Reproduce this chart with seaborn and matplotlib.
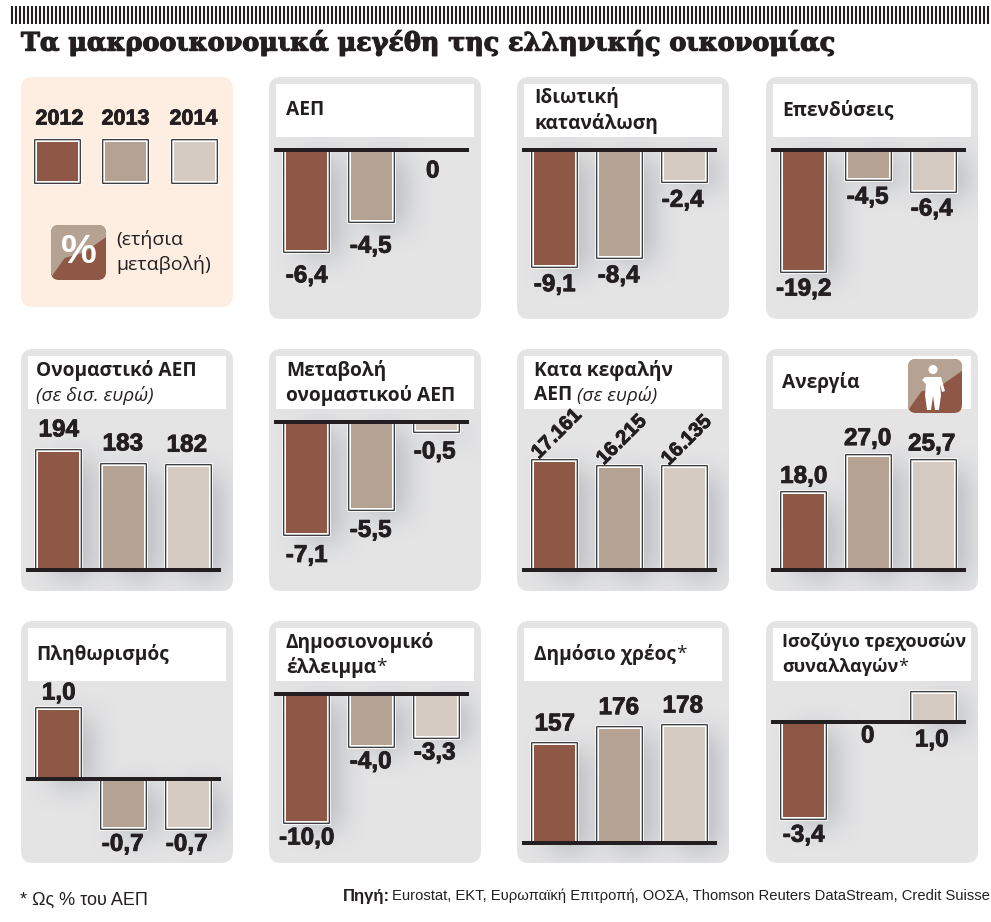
import numpy as np
import pandas as pd
import seaborn as sns
import matplotlib.pyplot as plt
import matplotlib.patheffects as pe
from matplotlib.patches import FancyBboxPatch, Polygon, Circle, Rectangle

sns.set_style("white")
plt.rcParams["font.family"] = ["Open Sans", "DejaVu Sans"]

W, H = 991, 922
DARK = "#231f20"
PANEL = "#e4e4e5"
CREAM = "#fdeee1"

years = ["2012", "2013", "2014"]
year_colors = ["#8f5745", "#b5a292", "#d6cbc2"]

gdp = [-6.4, -4.5, 0]
consumption = [-9.1, -8.4, -2.4]
investment = [-19.2, -4.5, -6.4]
nominal_gdp = [194, 183, 182]
nominal_gdp_change = [-7.1, -5.5, -0.5]
gdp_per_capita = [17161, 16215, 16135]
unemployment = [18.0, 27.0, 25.7]
inflation = [1.0, -0.7, -0.7]
deficit = [-10.0, -4.0, -3.3]
debt = [157, 176, 178]
current_account = [-3.4, 0, 1.0]

B = {"weight": "bold"}
I = {"style": "italic", "weight": "normal"}
R = {"weight": "normal"}

# col, row, baseline (px), px per unit, truncated floor, label gap, title lines
panels = [
    dict(v=gdp, col=1, row=0, base=150, scale=15.6, gap=26, title=[[("ΑΕΠ", B)]]),
    dict(v=consumption, col=2, row=0, base=150, scale=12.6, gap=20, title=[[("Ιδιωτική", B)], [("κατανάλωση", B)]]),
    dict(v=investment, col=3, row=0, base=150, scale=6.25, gap=19, title=[[("Επενδύσεις", B)]]),
    dict(v=nominal_gdp, col=0, row=1, base=570, scale=1.27, floor=101, gap=22, fmt="int",
         title=[[("Ονομαστικό ΑΕΠ", B)], [("(σε δισ. ευρώ)", I)]]),
    dict(v=nominal_gdp_change, col=1, row=1, base=422, scale=15.7, gap=22,
         title=[[("Μεταβολή", B)], [("ονομαστικού ΑΕΠ", B)]]),
    dict(v=gdp_per_capita, col=2, row=1, base=570, scale=0.0063, gap=28, fmt="thousands",
         title=[[("Κατα κεφαλήν", B)], [("ΑΕΠ ", B), ("(σε ευρώ)", I)]]),
    dict(v=unemployment, col=3, row=1, base=570, scale=4.2, gap=18, title=[[("Ανεργία", B)]]),
    dict(v=inflation, col=0, row=2, base=779, scale=69, gap=17, title=[[("Πληθωρισμός", B)]]),
    dict(v=deficit, col=1, row=2, base=694, scale=12.7, gap=17,
         title=[[("Δημοσιονομικό", B)], [("έλλειμμα", B), ("*", R)]]),
    dict(v=debt, col=2, row=2, base=843, scale=0.857, floor=42.6, gap=21, fmt="int",
         title=[[("Δημόσιο χρέος", B), ("*", R)]]),
    dict(v=current_account, col=3, row=2, base=722, scale=28, gap=18, below=True, title_size=13,
         title=[[("Ισοζύγιο τρεχουσών", B)], [("συναλλαγών", B), ("*", R)]]),
]

col_x = [21, 269, 517, 766]
row_y = [77, 349, 621]
title_pad = [15, 17, 17, 16]
PW, PH = 212, 242
FIRST_BAR, STEP, BAR_W = 37.7, 65, 41
VALUE_FONT = {"family": "Liberation Sans", "fontweight": "bold", "color": DARK}
HEAVY = [pe.withStroke(linewidth=0.6, foreground=DARK)]


def rounded(x, y, w, h, r, **kw):
    return FancyBboxPatch((x + r, y + r), w - 2 * r, h - 2 * r,
                          boxstyle=f"round,pad={r},rounding_size={r}", linewidth=0, **kw)


def px(p):
    return p * 72 / 100


def bar_frame():
    return [
        pe.Stroke(linewidth=px(7.5), foreground="white"),
        pe.Stroke(linewidth=px(5.5), foreground="black"),
        pe.Stroke(linewidth=px(3.5), foreground="white"),
        pe.Normal(),
    ]


def fmt_value(v, fmt):
    if fmt == "int":
        return str(v)
    if fmt == "thousands":
        return f"{v:,}".replace(",", ".")
    if v == 0:
        return "0"
    return f"{v:.1f}".replace(".", ",")


def write_runs(bg, x, y, runs, size=13.8):
    for text, style in runs:
        t = bg.text(x, y, text, fontsize=size, color=DARK, va="center", ha="left", zorder=5, **style)
        box = t.get_window_extent(fig.canvas.get_renderer())
        x += box.width


def blur(a, n):
    kernel = np.ones(n) / n
    for _ in range(2):
        a = np.apply_along_axis(lambda r: np.convolve(r, kernel, "same"), 0, a)
        a = np.apply_along_axis(lambda r: np.convolve(r, kernel, "same"), 1, a)
    return a


def add_shadow(bg, ax, panel_patch, x0, y0):
    mask = np.zeros((PH, PW))
    for bar in ax.patches:
        if not bar.get_visible():
            continue
        ext = bar.get_window_extent()
        l, r = int(ext.x0 - x0) + 14, int(ext.x1 - x0) + 14
        t, b = int(H - ext.y1 - y0) + 8, int(H - ext.y0 - y0) + 8
        mask[max(t, 0):max(b, 0), max(l, 0):max(r, 0)] = 1
    mask = blur(mask, 31)
    rgba = np.zeros((PH, PW, 4))
    rgba[..., :3] = np.array([0x9c, 0xa1, 0xa9]) / 255
    rgba[..., 3] = mask * 0.6
    im = bg.imshow(rgba, extent=(x0, x0 + PW, y0 + PH, y0), zorder=1, aspect="auto")
    im.set_clip_path(panel_patch)


def draw_panel(bg, p):
    x0, y0 = col_x[p["col"]], row_y[p["row"]]
    panel = rounded(x0, y0, PW, PH, 12, facecolor=PANEL, zorder=0)
    bg.add_patch(panel)
    bg.add_patch(Rectangle((x0 + 7, y0 + 7), 198, 53, facecolor="white", linewidth=0, zorder=3))

    floor = p.get("floor", 0)
    data = pd.DataFrame({"year": years, "height": np.array(p["v"], dtype=float) - floor})

    ax = fig.add_axes([x0 / W, 1 - (y0 + PH) / H, PW / W, PH / H], zorder=2)
    sns.barplot(data=data, x="year", y="height", hue="year", palette=year_colors, width=BAR_W / STEP,
                saturation=1, linewidth=0, legend=False, ax=ax)
    ax.set_xlim(-FIRST_BAR / STEP, (PW - FIRST_BAR) / STEP)
    y_min = -(y0 + PH - p["base"]) / p["scale"]
    y_max = (p["base"] - y0) / p["scale"]
    ax.set_ylim(y_min, y_max)
    ax.axis("off")
    ax.patch.set_visible(False)

    # the frame must not poke through on the other side of the zero line
    for bar, v in zip(ax.patches, p["v"]):
        if v == 0:
            bar.set_visible(False)
        bar.set_path_effects(bar_frame())
        low, high = (y_min, 0) if v < 0 else (0, y_max)
        clip = Rectangle((-5, low), 10, high - low, transform=ax.transData)
        bar.set_clip_path(clip)

    ax.axhline(0, xmin=5 / PW, xmax=200 / PW, color=DARK, lw=px(4), zorder=4, solid_capstyle="butt")
    add_shadow(bg, ax, panel, x0, y0)

    fmt = p.get("fmt")
    for i, (h, v) in enumerate(zip(data["height"], p["v"])):
        label = fmt_value(v, fmt)
        dx = -i
        if p.get("below"):
            y, off = (h, -p["gap"]) if v < 0 else (0, -18 if v > 0 else -14)
        elif v == 0:
            y, off, dx = 0, -21, -4
        else:
            y, off = h, p["gap"] if v > 0 else -p["gap"]
        thousands = fmt == "thousands"
        ax.annotate(label, xy=(i, y), xytext=(2 if thousands else dx, off), textcoords="offset pixels",
                    ha="center", va="center", rotation=45 if thousands else 0, rotation_mode="anchor",
                    fontsize=14.5 if thousands else 17.5, zorder=6, annotation_clip=False,
                    path_effects=HEAVY, **VALUE_FONT)

    lines = p["title"]
    ys = [y0 + 33] if len(lines) == 1 else [y0 + 21, y0 + 46]
    for runs, y in zip(lines, ys):
        write_runs(bg, x0 + title_pad[p["col"]], y, runs, size=p.get("title_size", 13.8))


def draw_icon(bg, x, y, s):
    base = rounded(x, y, s, s, 8, facecolor=year_colors[0], zorder=3)
    bg.add_patch(base)
    top = Polygon([(x, y), (x + s, y), (x + s, y + s * 0.22), (x + s * 0.6, y + s * 0.5),
                   (x + s * 0.25, y + s * 0.6), (x, y + s * 0.95)],
                  facecolor=year_colors[1], linewidth=0, zorder=3.1)
    bg.add_patch(top)
    top.set_clip_path(base)


def draw_legend(bg):
    x0, y0 = col_x[0], row_y[0]
    bg.add_patch(rounded(x0, y0, PW, 230, 12, facecolor=CREAM, zorder=0))
    for name, color, cx, tx in zip(years, year_colors, [57.5, 125.5, 194.5], [59.5, 125.5, 193.5]):
        bg.text(tx, 119, name, ha="center", va="center", fontsize=15.5, path_effects=HEAVY, **VALUE_FONT)
        sw = Rectangle((cx - 20.5, 142), 41, 39, facecolor=color, linewidth=0, zorder=3)
        bg.add_patch(sw)
        sw.set_path_effects(bar_frame())
    draw_icon(bg, 51, 225, 55)
    bg.text(78.5, 252, "%", ha="center", va="center", fontsize=29, fontweight="bold", color="white",
            family="Liberation Sans", zorder=4)
    bg.text(116, 239, "(ετήσια", fontsize=14, color=DARK, va="center")
    bg.text(116, 264, "μεταβολή)", fontsize=14, color=DARK, va="center")


def draw_person(bg):
    draw_icon(bg, 908, 359, 54)
    bg.add_patch(Circle((933, 369.5), 4.5, facecolor="white", linewidth=0, zorder=4))
    bg.add_patch(Polygon([(925, 377), (941, 377), (945, 391), (942, 392), (940, 384), (941, 395),
                          (939, 410), (935, 410), (933, 396), (931, 410), (927, 410), (925, 395),
                          (926, 384), (922, 380)],
                         facecolor="white", linewidth=0, zorder=4))


fig = plt.figure(figsize=(W / 100, H / 100), dpi=100)
bg = fig.add_axes([0, 0, 1, 1], zorder=1)
bg.axis("off")

for p in panels:
    draw_panel(bg, p)
bg.set_xlim(0, W)
bg.set_ylim(H, 0)
draw_legend(bg)
draw_person(bg)

# barcode strip above the title
bg.vlines(np.arange(12, W, 4), 6, 24, color=DARK, lw=1.5)

bg.text(21, 43, "Τα μακροοικονομικά μεγέθη της ελληνικής οικονομίας", fontsize=18.3, fontweight="bold",
        family="DejaVu Serif", color=DARK, va="center", ha="left",
        path_effects=[pe.withStroke(linewidth=0.9, foreground=DARK)])

FOOT = "Liberation Sans"
bg.text(20, 900, "* Ως % του ΑΕΠ", fontsize=13, color=DARK, va="center", family=FOOT)
bg.text(343, 896, "Πηγή:", fontsize=12, color=DARK, va="center", fontweight="bold", family=FOOT)
bg.text(392, 896, "Eurostat, ΕΚΤ, Ευρωπαϊκή Επιτροπή, ΟΟΣΑ, Thomson Reuters DataStream, Credit Suisse",
        fontsize=10.6, color=DARK, va="center", family=FOOT)

fig.savefig("out.png", dpi=100)
